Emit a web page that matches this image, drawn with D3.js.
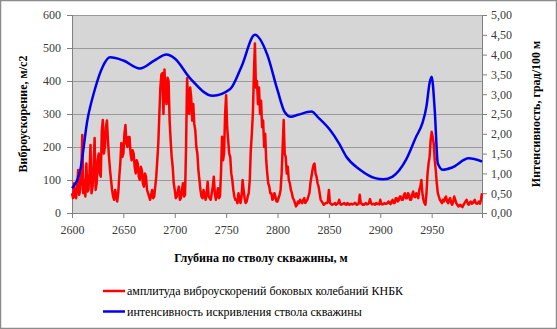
<!DOCTYPE html>
<html>
<head>
<meta charset="utf-8">
<script src="https://cdn.jsdelivr.net/npm/d3@7"></script>
<style>
  body { margin: 0; background: #fff; }
  svg text { font-family: "Liberation Serif", "Times New Roman", "DejaVu Serif", serif; }
</style>
</head>
<body>
<script>
// depth grid for the red series (step 1 m)
var redStart = 2600, redStep = 1;
// amplitude of lateral vibration acceleration of the BHA, m/s2 (one row = 10 m)
var redValues = [
  60, 45, 90, 50, 45, 80, 130, 55, 70, 110,
  236, 60, 100, 50, 150, 65, 70, 120, 206, 60,
  80, 140, 227, 70, 90, 160, 180, 120, 110, 250,
  282, 180, 200, 260, 280, 220, 170, 130, 100, 70,
  50, 40, 70, 55, 35, 60, 110, 150, 212, 170,
  180, 240, 267, 210, 200, 230, 230, 180, 160, 190,
  180, 140, 120, 160, 150, 110, 100, 140, 130, 90,
  80, 120, 110, 70, 60, 50, 40, 55, 70, 45,
  50, 80, 110, 160, 212, 300, 380, 420, 424, 300,
  435, 360, 330, 410, 400, 280, 220, 170, 140, 90,
  70, 45, 50, 65, 80, 40, 45, 70, 90, 50,
  55, 200, 408, 340, 300, 380, 350, 280, 330, 270,
  250, 200, 180, 130, 100, 70, 50, 45, 70, 55,
  40, 60, 95, 50, 45, 40, 60, 80, 110, 60,
  40, 55, 75, 45, 50, 120, 231, 160, 180, 300,
  357, 260, 220, 180, 170, 120, 100, 70, 50, 40,
  40, 30, 60, 45, 30, 50, 100, 70, 45, 30,
  35, 50, 60, 100, 190, 240, 300, 420, 514, 380,
  400, 330, 380, 300, 340, 260, 280, 200, 240, 160,
  120, 90, 80, 60, 60, 40, 45, 60, 50, 35,
  35, 45, 55, 70, 120, 200, 282, 180, 170, 120,
  140, 100, 90, 70, 60, 45, 40, 30, 20, 25,
  35, 30, 40, 35, 30, 40, 45, 30, 35, 40,
  50, 60, 90, 110, 130, 145, 150, 120, 110, 90,
  80, 60, 40, 35, 30, 25, 28, 30, 30, 35,
  70, 30, 28, 25, 26, 28, 30, 25, 28, 30,
  40, 28, 25, 27, 28, 30, 26, 25, 30, 28,
  25, 27, 28, 26, 27, 30, 30, 25, 26, 28,
  55, 30, 28, 25, 25, 28, 30, 26, 27, 30,
  42, 30, 26, 27, 28, 25, 30, 28, 27, 26,
  40, 28, 26, 27, 30, 28, 28, 30, 35, 30,
  27, 35, 40, 30, 30, 45, 45, 35, 38, 50,
  50, 40, 40, 55, 60, 45, 45, 60, 55, 40,
  40, 55, 65, 50, 48, 60, 55, 45, 70, 80,
  100, 60, 40, 30, 25, 60, 120, 150, 170, 220,
  246, 230, 210, 160, 130, 90, 60, 50, 40, 35,
  30, 40, 35, 45, 50, 35, 30, 40, 45, 30,
  25, 35, 50, 40, 30, 25, 20, 22, 25, 20,
  18, 25, 30, 35, 40, 30, 25, 30, 35, 28,
  30, 35, 40, 30, 28, 30, 35, 28, 40, 60
];

// well curvature intensity, deg/100 m
var blueDepth = [2600, 2608, 2615, 2622, 2630, 2637, 2650, 2666, 2680, 2692,
  2700, 2715, 2737, 2754, 2765, 2778, 2790, 2800, 2807, 2813,
  2820, 2833, 2840, 2851, 2860, 2867, 2880, 2895, 2903, 2912,
  2925, 2935, 2941, 2945, 2948, 2950, 2953, 2956, 2961, 2970,
  2986, 2999];
var blueValues = [0.63, 1.08, 2.35, 3.1, 3.7, 3.93, 3.85, 3.65, 3.85, 4.0,
  3.9, 3.4, 2.96, 3.13, 3.7, 4.5, 4.0, 3.1, 2.55, 2.43,
  2.48, 2.56, 2.4, 2.1, 1.75, 1.42, 1.1, 0.88, 0.85, 0.92,
  1.34, 1.93, 2.27, 2.7, 3.28, 3.44, 2.6, 1.25, 1.09, 1.15,
  1.38, 1.3];

var xTicks = [2600, 2650, 2700, 2750, 2800, 2850, 2900, 2950];
var leftTicks = [0, 100, 200, 300, 400, 500, 600];
var rightTicks = [0, 0.5, 1, 1.5, 2, 2.5, 3, 3.5, 4, 4.5, 5];

var legendLabels = ["амплитуда виброускорений боковых колебаний КНБК",
                    "интенсивность искривления ствола скважины"];
var colors = ["#ff0000", "#0000ee"];

var serif = '"Liberation Serif", "Times New Roman", "DejaVu Serif", serif';

var W = 557, H = 329;
var margin = {top: 15, right: 75, bottom: 116, left: 72},
    width = W - margin.left - margin.right,
    height = H - margin.top - margin.bottom;

var svg = d3.select("body").append("svg")
    .attr("width", W)
    .attr("height", H);

// outer chart border
svg.append("rect")
    .attr("x", 0.5).attr("y", 0.5)
    .attr("width", W - 1).attr("height", H - 1)
    .attr("fill", "#fff")
    .attr("stroke", "#8c8c8c")
    .attr("stroke-width", 1.5);

var g = svg.append("g")
    .attr("transform", "translate(" + margin.left + "," + margin.top + ")");

var x = d3.scaleLinear().domain([2600, 2999]).range([0, width]);
var yL = d3.scaleLinear().domain([0, 600]).range([height, 0]);
var yR = d3.scaleLinear().domain([0, 5]).range([height, 0]);

// plot background
g.append("rect")
    .attr("width", width).attr("height", height)
    .attr("fill", "#d6d6d6");

// gridlines
g.selectAll(".grid").data(leftTicks.slice(1)).enter().append("line")
    .attr("x1", 0).attr("x2", width)
    .attr("y1", function(d) { return Math.round(yL(d)) + 0.5; })
    .attr("y2", function(d) { return Math.round(yL(d)) + 0.5; })
    .attr("stroke", "#9a9a9a");

// axes
var fmtR = function(d) { return d3.format(".2f")(d).replace(".", ","); };

var axL = g.append("g")
    .call(d3.axisLeft(yL).tickValues(leftTicks).tickSize(5).tickPadding(6));
var axR = g.append("g")
    .attr("transform", "translate(" + width + ",0)")
    .call(d3.axisRight(yR).tickValues(rightTicks).tickFormat(fmtR).tickSize(5).tickPadding(4));
var axB = g.append("g")
    .attr("transform", "translate(0," + height + ")")
    .call(d3.axisBottom(x).tickValues(xTicks).tickFormat(d3.format("d")).tickSize(5).tickPadding(7));

[axL, axR, axB].forEach(function(a) {
    a.attr("font-family", serif);
    a.select(".domain").attr("stroke", "#808080");
    a.selectAll(".tick line").attr("stroke", "#808080");
    a.selectAll(".tick text")
        .attr("fill", "#3a3a3a")
        .attr("font-size", 12);
});

// red series
var redData = redValues.map(function(v, i) { return [redStart + i * redStep, v]; });
g.append("path")
    .datum(redData)
    .attr("fill", "none")
    .attr("stroke", colors[0])
    .attr("stroke-width", 2.5)
    .attr("stroke-linejoin", "round")
    .attr("d", d3.line()
        .x(function(d) { return x(d[0]); })
        .y(function(d) { return yL(d[1]); }));

// blue series (smoothed)
var blueData = blueDepth.map(function(d, i) { return [d, blueValues[i]]; });
g.append("path")
    .datum(blueData)
    .attr("fill", "none")
    .attr("stroke", colors[1])
    .attr("stroke-width", 2.5)
    .attr("d", d3.line()
        .curve(d3.curveMonotoneX)
        .x(function(d) { return x(d[0]); })
        .y(function(d) { return yR(d[1]); }));

// axis titles
svg.append("text")
    .attr("transform", "translate(23," + (margin.top + height / 2) + ") rotate(-90)")
    .attr("text-anchor", "middle")
    .attr("dy", "0.35em")
    .attr("font-family", serif)
    .attr("font-size", 12)
    .attr("font-weight", "bold")
    .text("Виброускорение, м/с2");

svg.append("text")
    .attr("transform", "translate(536," + (margin.top + height / 2) + ") rotate(-90)")
    .attr("text-anchor", "middle")
    .attr("dy", "0.35em")
    .attr("font-family", serif)
    .attr("font-size", 12)
    .attr("font-weight", "bold")
    .text("Интенсивность, град/100 м");

svg.append("text")
    .attr("x", 261)
    .attr("y", 262)
    .attr("text-anchor", "middle")
    .attr("font-family", serif)
    .attr("font-size", 12)
    .attr("font-weight", "bold")
    .text("Глубина по стволу скважины, м");

// legend
legendLabels.forEach(function(lbl, i) {
    var ly = 291 + i * 20.5;
    svg.append("line")
        .attr("x1", 103).attr("x2", 125)
        .attr("y1", ly).attr("y2", ly)
        .attr("stroke", colors[i])
        .attr("stroke-width", 2.5);
    svg.append("text")
        .attr("x", 127)
        .attr("y", ly)
        .attr("dy", "0.35em")
        .attr("font-family", serif)
        .attr("font-size", 12)
        .text(lbl);
});
</script>
</body>
</html>
